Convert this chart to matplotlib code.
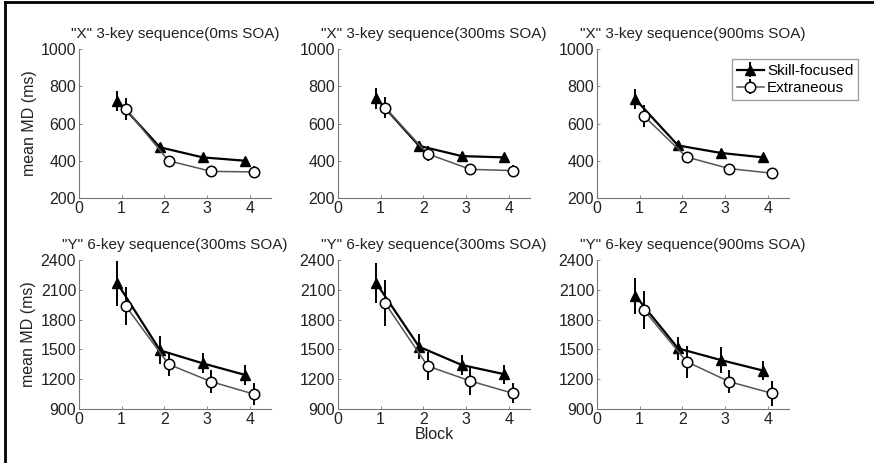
import matplotlib
matplotlib.use("Agg")
import matplotlib.pyplot as plt
from matplotlib.lines import Line2D

plt.rcParams["font.family"] = ["Liberation Sans", "DejaVu Sans"]

blocks = [1, 2, 3, 4]
offset = 0.1

titles = [
    '"X" 3-key sequence(0ms SOA)',
    '"X" 3-key sequence(300ms SOA)',
    '"X" 3-key sequence(900ms SOA)',
    '"Y" 6-key sequence(300ms SOA)',
    '"Y" 6-key sequence(300ms SOA)',
    '"Y" 6-key sequence(900ms SOA)',
]

# mean MD (ms) per block, one list per panel
skill_mean = [
    [722, 472, 418, 400],
    [735, 480, 425, 418],
    [730, 482, 442, 418],
    [2165, 1490, 1360, 1242],
    [2165, 1527, 1343, 1250],
    [2040, 1510, 1393, 1286],
]
skill_err = [
    [55, 25, 20, 15],
    [58, 25, 20, 15],
    [54, 22, 20, 15],
    [225, 140, 100, 100],
    [200, 125, 105, 95],
    [180, 115, 135, 95],
]
extra_mean = [
    [678, 400, 343, 340],
    [685, 437, 354, 347],
    [640, 420, 358, 333],
    [1935, 1350, 1175, 1050],
    [1968, 1333, 1182, 1058],
    [1897, 1377, 1175, 1058],
]
extra_err = [
    [58, 20, 10, 32],
    [58, 40, 10, 30],
    [58, 15, 12, 25],
    [190, 120, 115, 110],
    [230, 140, 140, 100],
    [190, 160, 115, 125],
]

top_ticks = [200, 400, 600, 800, 1000]
bottom_ticks = [900, 1200, 1500, 1800, 2100, 2400]
x_ticks = [0, 1, 2, 3, 4]

fig = plt.figure(figsize=(8.74, 4.63), dpi=100)

lefts = [79, 338, 597]
width = 192
tops = [49, 260]
height = 149
W, H = 874, 463

axes = []
for r in range(2):
    for c in range(3):
        ax = fig.add_axes([lefts[c] / W, 1 - (tops[r] + height) / H, width / W, height / H])
        axes.append(ax)

for i, ax in enumerate(axes):
    xs = [b - offset for b in blocks]
    xe = [b + offset for b in blocks]
    ax.errorbar(xs, skill_mean[i], yerr=skill_err[i], color="black", lw=1.6,
                elinewidth=1.4, capsize=0, marker="^", ms=7.5, mfc="black",
                mec="black", label="Skill-focused", zorder=3)
    ax.errorbar(xe, extra_mean[i], yerr=extra_err[i], color="#555555", lw=1.1,
                ecolor="black", elinewidth=1.4, capsize=0, marker="o", ms=7.5,
                mfc="white", mec="black", mew=1.1, label="Extraneous", zorder=4)

    ax.set_xlim(0, 4.5)
    ax.set_xticks(x_ticks)
    if i < 3:
        ax.set_ylim(200, 1000)
        ax.set_yticks(top_ticks)
    else:
        ax.set_ylim(900, 2400)
        ax.set_yticks(bottom_ticks)

    for s in ["top", "right"]:
        ax.spines[s].set_visible(False)
    for s in ["left", "bottom"]:
        ax.spines[s].set_color("#777777")
        ax.spines[s].set_linewidth(0.8)
    ax.tick_params(direction="in", length=2, width=0.6, color="#777777",
                   labelsize=11.5, labelcolor="#222222", pad=2)
    ax.set_title(titles[i], fontsize=11, color="#222222", pad=8)

axes[0].set_ylabel("mean MD (ms)", fontsize=11.5, color="#222222", labelpad=3)
axes[3].set_ylabel("mean MD (ms)", fontsize=11.5, color="#222222", labelpad=3)
axes[4].set_xlabel("Block", fontsize=11.5, color="#222222", labelpad=0)

axes[2].legend(loc="upper right", bbox_to_anchor=(1.36, 0.93), fontsize=11,
               frameon=True, fancybox=False, edgecolor="#888888",
               handlelength=1.8, handletextpad=0.2, borderpad=0.3,
               labelspacing=0.2, borderaxespad=0)

# partial outer frame (left and top)
fig.add_artist(Line2D([0.006, 0.006], [0, 0.995], color="black", lw=2,
                      transform=fig.transFigure))
fig.add_artist(Line2D([0.006, 1], [0.995, 0.995], color="black", lw=2,
                      transform=fig.transFigure))

fig.savefig("out.png", dpi=100, facecolor="white")
